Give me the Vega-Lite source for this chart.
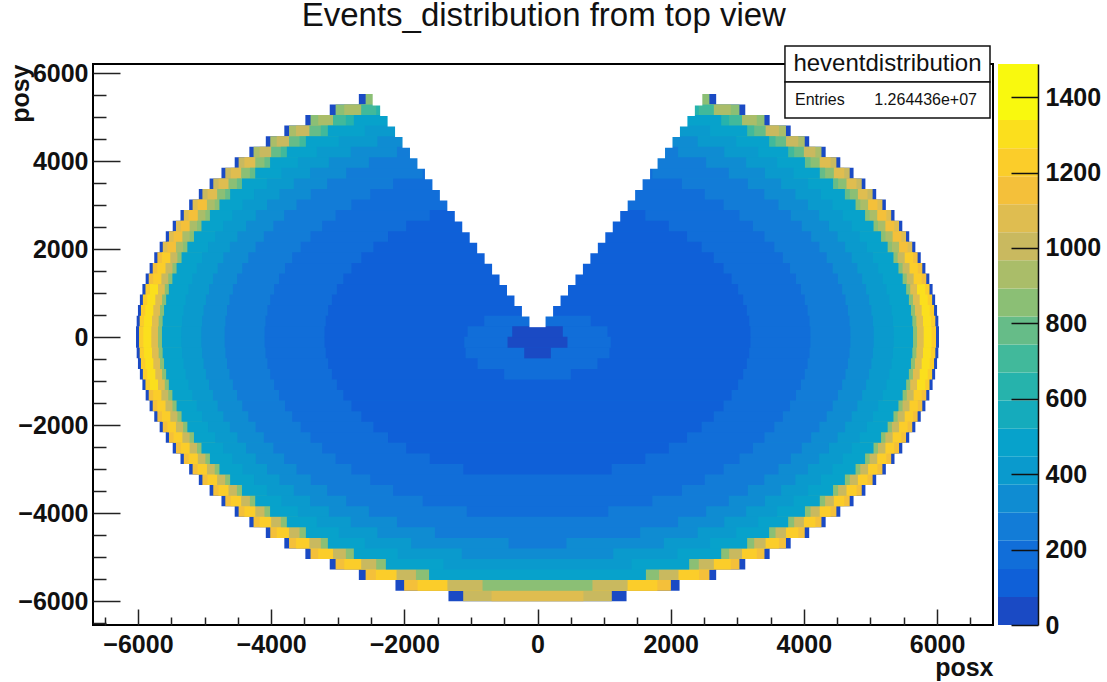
{"$schema":"https://vega.github.io/schema/vega-lite/v6.json","background":"white","padding":{"left":7,"top":0,"right":0,"bottom":0},"title":{"text":"Events_distribution from top view","font":"Liberation Sans","fontSize":33,"fontWeight":"normal","color":"#111","anchor":"middle","frame":"bounds","offset":11,"dx":-10},"config":{"font":"Liberation Sans"},"spacing":4,"hconcat":[{"width":900,"height":561,"view":{"stroke":"black","strokeWidth":2},"resolve":{"axis":{"x":"independent","y":"independent"}},"layer":[{"mark":{"type":"rect","height":11},"data":{"values":[
{"x":-1337,"x2":1337,"y":-5880,"z":110},{"x":-2133,"x2":2133,"y":-5640,"z":110},{"x":-2683,"x2":2683,"y":-5400,"z":110},{"x":-3120,"x2":3120,"y":-5160,"z":110},{"x":-3486,"x2":3486,"y":-4920,"z":110},{"x":-3802,"x2":3802,"y":-4680,"z":110},{"x":-4080,"x2":4080,"y":-4440,"z":110},{"x":-4327,"x2":4327,"y":-4200,"z":110},{"x":-4547,"x2":4547,"y":-3960,"z":110},{"x":-4746,"x2":4746,"y":-3720,"z":110},{"x":-4924,"x2":4924,"y":-3480,"z":110},{"x":-5086,"x2":5086,"y":-3240,"z":110},{"x":-5231,"x2":5231,"y":-3000,"z":110},{"x":-5361,"x2":5361,"y":-2760,"z":110},{"x":-5478,"x2":5478,"y":-2520,"z":110},{"x":-5582,"x2":5582,"y":-2280,"z":110},{"x":-5674,"x2":5674,"y":-2040,"z":110},{"x":-5755,"x2":5755,"y":-1800,"z":110},{"x":-5825,"x2":5825,"y":-1560,"z":110},{"x":-5884,"x2":5884,"y":-1320,"z":110},{"x":-5933,"x2":5933,"y":-1080,"z":110},{"x":-5971,"x2":5971,"y":-840,"z":110},{"x":-6000,"x2":6000,"y":-600,"z":110},{"x":-6019,"x2":6019,"y":-360,"z":110},{"x":-6029,"x2":6029,"y":-120,"z":110},
{"x":-6029,"x2":6029,"y":120,"z":110},{"x":-6019,"x2":6019,"y":360,"z":110},{"x":-6000,"x2":6000,"y":600,"z":110},{"x":-5971,"x2":5971,"y":840,"z":110},{"x":-5933,"x2":5933,"y":1080,"z":110},{"x":-5884,"x2":5884,"y":1320,"z":110},{"x":-5825,"x2":5825,"y":1560,"z":110},{"x":-5755,"x2":5755,"y":1800,"z":110},{"x":-5674,"x2":5674,"y":2040,"z":110},{"x":-5582,"x2":5582,"y":2280,"z":110},{"x":-5478,"x2":5478,"y":2520,"z":110},{"x":-5361,"x2":5361,"y":2760,"z":110},{"x":-5231,"x2":5231,"y":3000,"z":110},{"x":-5086,"x2":5086,"y":3240,"z":110},{"x":-4924,"x2":4924,"y":3480,"z":110},{"x":-4746,"x2":4746,"y":3720,"z":110},{"x":-4547,"x2":4547,"y":3960,"z":110},{"x":-4327,"x2":4327,"y":4200,"z":110},{"x":-4080,"x2":4080,"y":4440,"z":110},{"x":-3802,"x2":3802,"y":4680,"z":110},{"x":-3486,"x2":3486,"y":4920,"z":110},{"x":-3120,"x2":3120,"y":5160,"z":110},{"x":-2683,"x2":2683,"y":5400,"z":110},
{"x":-1116,"x2":1116,"y":-5880,"z":1070},{"x":-2003,"x2":2003,"y":-5640,"z":1220},{"x":-2581,"x2":2581,"y":-5400,"z":1220},{"x":-3032,"x2":3032,"y":-5160,"z":1220},{"x":-3408,"x2":3408,"y":-4920,"z":1220},{"x":-3731,"x2":3731,"y":-4680,"z":1220},{"x":-4013,"x2":4013,"y":-4440,"z":1220},{"x":-4264,"x2":4264,"y":-4200,"z":1220},{"x":-4488,"x2":4488,"y":-3960,"z":1220},{"x":-4688,"x2":4688,"y":-3720,"z":1220},{"x":-4869,"x2":4869,"y":-3480,"z":1220},{"x":-5032,"x2":5032,"y":-3240,"z":1220},{"x":-5179,"x2":5179,"y":-3000,"z":1220},{"x":-5311,"x2":5311,"y":-2760,"z":1220},{"x":-5429,"x2":5429,"y":-2520,"z":1220},{"x":-5534,"x2":5534,"y":-2280,"z":1220},{"x":-5627,"x2":5627,"y":-2040,"z":1220},{"x":-5708,"x2":5708,"y":-1800,"z":1220},{"x":-5778,"x2":5778,"y":-1560,"z":1220},{"x":-5838,"x2":5838,"y":-1320,"z":1220},{"x":-5887,"x2":5887,"y":-1080,"z":1295},{"x":-5926,"x2":5926,"y":-840,"z":1295},{"x":-5955,"x2":5955,"y":-600,"z":1295},{"x":-5974,"x2":5974,"y":-360,"z":1295},{"x":-5984,"x2":5984,"y":-120,"z":1295},
{"x":-5984,"x2":5984,"y":120,"z":1295},{"x":-5974,"x2":5974,"y":360,"z":1295},{"x":-5955,"x2":5955,"y":600,"z":1295},{"x":-5926,"x2":5926,"y":840,"z":1295},{"x":-5887,"x2":5887,"y":1080,"z":1295},{"x":-5838,"x2":5838,"y":1320,"z":1220},{"x":-5778,"x2":5778,"y":1560,"z":1220},{"x":-5708,"x2":5708,"y":1800,"z":1220},{"x":-5627,"x2":5627,"y":2040,"z":1150},{"x":-5534,"x2":5534,"y":2280,"z":1150},{"x":-5429,"x2":5429,"y":2520,"z":1150},{"x":-5311,"x2":5311,"y":2760,"z":1150},{"x":-5179,"x2":5179,"y":3000,"z":1150},{"x":-5032,"x2":5032,"y":3240,"z":1070},{"x":-4869,"x2":4869,"y":3480,"z":1070},{"x":-4688,"x2":4688,"y":3720,"z":1070},{"x":-4488,"x2":4488,"y":3960,"z":1070},{"x":-4264,"x2":4264,"y":4200,"z":1000},{"x":-4013,"x2":4013,"y":4440,"z":1000},{"x":-3731,"x2":3731,"y":4680,"z":1000},{"x":-3408,"x2":3408,"y":4920,"z":925},{"x":-3032,"x2":3032,"y":5160,"z":925},{"x":-2581,"x2":2581,"y":5400,"z":925},
{"x":-690,"x2":690,"y":-5880,"z":1150},{"x":-1800,"x2":1800,"y":-5640,"z":1295},{"x":-2427,"x2":2427,"y":-5400,"z":1295},{"x":-2902,"x2":2902,"y":-5160,"z":1295},{"x":-3293,"x2":3293,"y":-4920,"z":1295},{"x":-3626,"x2":3626,"y":-4680,"z":1295},{"x":-3916,"x2":3916,"y":-4440,"z":1295},{"x":-4173,"x2":4173,"y":-4200,"z":1295},{"x":-4401,"x2":4401,"y":-3960,"z":1295},{"x":-4606,"x2":4606,"y":-3720,"z":1295},{"x":-4790,"x2":4790,"y":-3480,"z":1295},{"x":-4955,"x2":4955,"y":-3240,"z":1295},{"x":-5104,"x2":5104,"y":-3000,"z":1295},{"x":-5238,"x2":5238,"y":-2760,"z":1295},{"x":-5357,"x2":5357,"y":-2520,"z":1295},{"x":-5464,"x2":5464,"y":-2280,"z":1295},{"x":-5558,"x2":5558,"y":-2040,"z":1295},{"x":-5640,"x2":5640,"y":-1800,"z":1295},{"x":-5711,"x2":5711,"y":-1560,"z":1295},{"x":-5771,"x2":5771,"y":-1320,"z":1295},{"x":-5821,"x2":5821,"y":-1080,"z":1370},{"x":-5860,"x2":5860,"y":-840,"z":1370},{"x":-5890,"x2":5890,"y":-600,"z":1370},{"x":-5909,"x2":5909,"y":-360,"z":1370},{"x":-5919,"x2":5919,"y":-120,"z":1370},
{"x":-5919,"x2":5919,"y":120,"z":1370},{"x":-5909,"x2":5909,"y":360,"z":1370},{"x":-5890,"x2":5890,"y":600,"z":1370},{"x":-5860,"x2":5860,"y":840,"z":1370},{"x":-5821,"x2":5821,"y":1080,"z":1370},{"x":-5771,"x2":5771,"y":1320,"z":1295},{"x":-5711,"x2":5711,"y":1560,"z":1295},{"x":-5640,"x2":5640,"y":1800,"z":1295},{"x":-5558,"x2":5558,"y":2040,"z":1220},{"x":-5464,"x2":5464,"y":2280,"z":1220},{"x":-5357,"x2":5357,"y":2520,"z":1220},{"x":-5238,"x2":5238,"y":2760,"z":1220},{"x":-5104,"x2":5104,"y":3000,"z":1220},{"x":-4955,"x2":4955,"y":3240,"z":1150},{"x":-4790,"x2":4790,"y":3480,"z":1150},{"x":-4606,"x2":4606,"y":3720,"z":1150},{"x":-4401,"x2":4401,"y":3960,"z":1150},{"x":-4173,"x2":4173,"y":4200,"z":1070},{"x":-3916,"x2":3916,"y":4440,"z":1070},{"x":-3626,"x2":3626,"y":4680,"z":1070},{"x":-3293,"x2":3293,"y":4920,"z":1000},{"x":-2902,"x2":2902,"y":5160,"z":1000},{"x":-2427,"x2":2427,"y":5400,"z":1000},
{"x":-1353,"x2":1353,"y":-5640,"z":1070},{"x":-2117,"x2":2117,"y":-5400,"z":1070},{"x":-2648,"x2":2648,"y":-5160,"z":1070},{"x":-3071,"x2":3071,"y":-4920,"z":1070},{"x":-3426,"x2":3426,"y":-4680,"z":1070},{"x":-3732,"x2":3732,"y":-4440,"z":1070},{"x":-4000,"x2":4000,"y":-4200,"z":1070},{"x":-4238,"x2":4238,"y":-3960,"z":1070},{"x":-4450,"x2":4450,"y":-3720,"z":1070},{"x":-4640,"x2":4640,"y":-3480,"z":1070},{"x":-4811,"x2":4811,"y":-3240,"z":1070},{"x":-4964,"x2":4964,"y":-3000,"z":1070},{"x":-5101,"x2":5101,"y":-2760,"z":1070},{"x":-5224,"x2":5224,"y":-2520,"z":1070},{"x":-5333,"x2":5333,"y":-2280,"z":1070},{"x":-5429,"x2":5429,"y":-2040,"z":1070},{"x":-5514,"x2":5514,"y":-1800,"z":1070},{"x":-5586,"x2":5586,"y":-1560,"z":1070},{"x":-5648,"x2":5648,"y":-1320,"z":1070},{"x":-5699,"x2":5699,"y":-1080,"z":1150},{"x":-5739,"x2":5739,"y":-840,"z":1150},{"x":-5769,"x2":5769,"y":-600,"z":1150},{"x":-5789,"x2":5789,"y":-360,"z":1150},{"x":-5799,"x2":5799,"y":-120,"z":1150},
{"x":-5799,"x2":5799,"y":120,"z":1150},{"x":-5789,"x2":5789,"y":360,"z":1150},{"x":-5769,"x2":5769,"y":600,"z":1150},{"x":-5739,"x2":5739,"y":840,"z":1150},{"x":-5699,"x2":5699,"y":1080,"z":1150},{"x":-5648,"x2":5648,"y":1320,"z":1070},{"x":-5586,"x2":5586,"y":1560,"z":1070},{"x":-5514,"x2":5514,"y":1800,"z":1070},{"x":-5429,"x2":5429,"y":2040,"z":1000},{"x":-5333,"x2":5333,"y":2280,"z":1000},{"x":-5224,"x2":5224,"y":2520,"z":1000},{"x":-5101,"x2":5101,"y":2760,"z":1000},{"x":-4964,"x2":4964,"y":3000,"z":1000},{"x":-4811,"x2":4811,"y":3240,"z":925},{"x":-4640,"x2":4640,"y":3480,"z":925},{"x":-4450,"x2":4450,"y":3720,"z":925},{"x":-4238,"x2":4238,"y":3960,"z":925},{"x":-4000,"x2":4000,"y":4200,"z":850},{"x":-3732,"x2":3732,"y":4440,"z":850},{"x":-3426,"x2":3426,"y":4680,"z":850},{"x":-3071,"x2":3071,"y":4920,"z":780},{"x":-2648,"x2":2648,"y":5160,"z":780},{"x":-2117,"x2":2117,"y":5400,"z":780},
{"x":-825,"x2":825,"y":-5640,"z":925},{"x":-1825,"x2":1825,"y":-5400,"z":925},{"x":-2422,"x2":2422,"y":-5160,"z":925},{"x":-2878,"x2":2878,"y":-4920,"z":925},{"x":-3254,"x2":3254,"y":-4680,"z":925},{"x":-3574,"x2":3574,"y":-4440,"z":925},{"x":-3854,"x2":3854,"y":-4200,"z":925},{"x":-4100,"x2":4100,"y":-3960,"z":925},{"x":-4319,"x2":4319,"y":-3720,"z":925},{"x":-4514,"x2":4514,"y":-3480,"z":925},{"x":-4690,"x2":4690,"y":-3240,"z":925},{"x":-4847,"x2":4847,"y":-3000,"z":925},{"x":-4987,"x2":4987,"y":-2760,"z":925},{"x":-5113,"x2":5113,"y":-2520,"z":925},{"x":-5224,"x2":5224,"y":-2280,"z":925},{"x":-5322,"x2":5322,"y":-2040,"z":925},{"x":-5408,"x2":5408,"y":-1800,"z":925},{"x":-5482,"x2":5482,"y":-1560,"z":925},{"x":-5545,"x2":5545,"y":-1320,"z":925},{"x":-5597,"x2":5597,"y":-1080,"z":925},{"x":-5638,"x2":5638,"y":-840,"z":925},{"x":-5668,"x2":5668,"y":-600,"z":925},{"x":-5689,"x2":5689,"y":-360,"z":925},{"x":-5699,"x2":5699,"y":-120,"z":925},
{"x":-5699,"x2":5699,"y":120,"z":925},{"x":-5689,"x2":5689,"y":360,"z":925},{"x":-5668,"x2":5668,"y":600,"z":925},{"x":-5638,"x2":5638,"y":840,"z":925},{"x":-5597,"x2":5597,"y":1080,"z":925},{"x":-5545,"x2":5545,"y":1320,"z":925},{"x":-5482,"x2":5482,"y":1560,"z":925},{"x":-5408,"x2":5408,"y":1800,"z":925},{"x":-5322,"x2":5322,"y":2040,"z":925},{"x":-5224,"x2":5224,"y":2280,"z":925},{"x":-5113,"x2":5113,"y":2520,"z":925},{"x":-4987,"x2":4987,"y":2760,"z":925},{"x":-4847,"x2":4847,"y":3000,"z":925},{"x":-4690,"x2":4690,"y":3240,"z":820},{"x":-4514,"x2":4514,"y":3480,"z":820},{"x":-4319,"x2":4319,"y":3720,"z":820},{"x":-4100,"x2":4100,"y":3960,"z":820},{"x":-3854,"x2":3854,"y":4200,"z":780},{"x":-3574,"x2":3574,"y":4440,"z":780},{"x":-3254,"x2":3254,"y":4680,"z":780},{"x":-2878,"x2":2878,"y":4920,"z":700},{"x":-2422,"x2":2422,"y":5160,"z":700},{"x":-1825,"x2":1825,"y":5400,"z":700},
{"x":-1628,"x2":1628,"y":-5400,"z":590},{"x":-2277,"x2":2277,"y":-5160,"z":590},{"x":-2758,"x2":2758,"y":-4920,"z":590},{"x":-3148,"x2":3148,"y":-4680,"z":590},{"x":-3478,"x2":3478,"y":-4440,"z":590},{"x":-3764,"x2":3764,"y":-4200,"z":590},{"x":-4016,"x2":4016,"y":-3960,"z":590},{"x":-4239,"x2":4239,"y":-3720,"z":590},{"x":-4438,"x2":4438,"y":-3480,"z":590},{"x":-4616,"x2":4616,"y":-3240,"z":590},{"x":-4776,"x2":4776,"y":-3000,"z":590},{"x":-4919,"x2":4919,"y":-2760,"z":590},{"x":-5046,"x2":5046,"y":-2520,"z":590},{"x":-5159,"x2":5159,"y":-2280,"z":590},{"x":-5258,"x2":5258,"y":-2040,"z":590},{"x":-5345,"x2":5345,"y":-1800,"z":590},{"x":-5420,"x2":5420,"y":-1560,"z":590},{"x":-5483,"x2":5483,"y":-1320,"z":590},{"x":-5536,"x2":5536,"y":-1080,"z":590},{"x":-5577,"x2":5577,"y":-840,"z":590},{"x":-5608,"x2":5608,"y":-600,"z":590},{"x":-5629,"x2":5629,"y":-360,"z":590},{"x":-5639,"x2":5639,"y":-120,"z":590},
{"x":-5639,"x2":5639,"y":120,"z":590},{"x":-5629,"x2":5629,"y":360,"z":590},{"x":-5608,"x2":5608,"y":600,"z":590},{"x":-5577,"x2":5577,"y":840,"z":590},{"x":-5536,"x2":5536,"y":1080,"z":590},{"x":-5483,"x2":5483,"y":1320,"z":590},{"x":-5420,"x2":5420,"y":1560,"z":590},{"x":-5345,"x2":5345,"y":1800,"z":590},{"x":-5258,"x2":5258,"y":2040,"z":590},{"x":-5159,"x2":5159,"y":2280,"z":590},{"x":-5046,"x2":5046,"y":2520,"z":590},{"x":-4919,"x2":4919,"y":2760,"z":590},{"x":-4776,"x2":4776,"y":3000,"z":590},{"x":-4616,"x2":4616,"y":3240,"z":590},{"x":-4438,"x2":4438,"y":3480,"z":590},{"x":-4239,"x2":4239,"y":3720,"z":590},{"x":-4016,"x2":4016,"y":3960,"z":590},{"x":-3764,"x2":3764,"y":4200,"z":590},{"x":-3478,"x2":3478,"y":4440,"z":590},{"x":-3148,"x2":3148,"y":4680,"z":590},{"x":-2758,"x2":2758,"y":4920,"z":590},{"x":-2277,"x2":2277,"y":5160,"z":590},{"x":-1628,"x2":1628,"y":5400,"z":590},
{"x":-1412,"x2":1412,"y":-5160,"z":480},{"x":-2101,"x2":2101,"y":-4920,"z":480},{"x":-2592,"x2":2592,"y":-4680,"z":480},{"x":-2984,"x2":2984,"y":-4440,"z":480},{"x":-3314,"x2":3314,"y":-4200,"z":480},{"x":-3597,"x2":3597,"y":-3960,"z":480},{"x":-3845,"x2":3845,"y":-3720,"z":480},{"x":-4063,"x2":4063,"y":-3480,"z":480},{"x":-4257,"x2":4257,"y":-3240,"z":480},{"x":-4429,"x2":4429,"y":-3000,"z":480},{"x":-4583,"x2":4583,"y":-2760,"z":480},{"x":-4719,"x2":4719,"y":-2520,"z":480},{"x":-4840,"x2":4840,"y":-2280,"z":480},{"x":-4946,"x2":4946,"y":-2040,"z":480},{"x":-5038,"x2":5038,"y":-1800,"z":480},{"x":-5117,"x2":5117,"y":-1560,"z":480},{"x":-5184,"x2":5184,"y":-1320,"z":480},{"x":-5240,"x2":5240,"y":-1080,"z":480},{"x":-5283,"x2":5283,"y":-840,"z":480},{"x":-5316,"x2":5316,"y":-600,"z":480},{"x":-5338,"x2":5338,"y":-360,"z":480},{"x":-5349,"x2":5349,"y":-120,"z":480},
{"x":-5349,"x2":5349,"y":120,"z":480},{"x":-5338,"x2":5338,"y":360,"z":480},{"x":-5316,"x2":5316,"y":600,"z":480},{"x":-5283,"x2":5283,"y":840,"z":480},{"x":-5240,"x2":5240,"y":1080,"z":480},{"x":-5184,"x2":5184,"y":1320,"z":480},{"x":-5117,"x2":5117,"y":1560,"z":480},{"x":-5038,"x2":5038,"y":1800,"z":480},{"x":-4946,"x2":4946,"y":2040,"z":480},{"x":-4840,"x2":4840,"y":2280,"z":480},{"x":-4719,"x2":4719,"y":2520,"z":480},{"x":-4583,"x2":4583,"y":2760,"z":480},{"x":-4429,"x2":4429,"y":3000,"z":480},{"x":-4257,"x2":4257,"y":3240,"z":480},{"x":-4063,"x2":4063,"y":3480,"z":480},{"x":-3845,"x2":3845,"y":3720,"z":480},{"x":-3597,"x2":3597,"y":3960,"z":480},{"x":-3314,"x2":3314,"y":4200,"z":480},{"x":-2984,"x2":2984,"y":4440,"z":480},{"x":-2592,"x2":2592,"y":4680,"z":480},{"x":-2101,"x2":2101,"y":4920,"z":480},{"x":-1412,"x2":1412,"y":5160,"z":480},
{"x":-1138,"x2":1138,"y":-4920,"z":410},{"x":-1897,"x2":1897,"y":-4680,"z":410},{"x":-2405,"x2":2405,"y":-4440,"z":410},{"x":-2804,"x2":2804,"y":-4200,"z":410},{"x":-3133,"x2":3133,"y":-3960,"z":410},{"x":-3415,"x2":3415,"y":-3720,"z":410},{"x":-3659,"x2":3659,"y":-3480,"z":410},{"x":-3873,"x2":3873,"y":-3240,"z":410},{"x":-4062,"x2":4062,"y":-3000,"z":410},{"x":-4229,"x2":4229,"y":-2760,"z":410},{"x":-4376,"x2":4376,"y":-2520,"z":410},{"x":-4506,"x2":4506,"y":-2280,"z":410},{"x":-4619,"x2":4619,"y":-2040,"z":410},{"x":-4718,"x2":4718,"y":-1800,"z":410},{"x":-4803,"x2":4803,"y":-1560,"z":410},{"x":-4874,"x2":4874,"y":-1320,"z":410},{"x":-4933,"x2":4933,"y":-1080,"z":410},{"x":-4979,"x2":4979,"y":-840,"z":410},{"x":-5014,"x2":5014,"y":-600,"z":410},{"x":-5037,"x2":5037,"y":-360,"z":410},{"x":-5049,"x2":5049,"y":-120,"z":410},
{"x":-5049,"x2":5049,"y":120,"z":410},{"x":-5037,"x2":5037,"y":360,"z":410},{"x":-5014,"x2":5014,"y":600,"z":410},{"x":-4979,"x2":4979,"y":840,"z":410},{"x":-4933,"x2":4933,"y":1080,"z":410},{"x":-4874,"x2":4874,"y":1320,"z":410},{"x":-4803,"x2":4803,"y":1560,"z":410},{"x":-4718,"x2":4718,"y":1800,"z":410},{"x":-4619,"x2":4619,"y":2040,"z":410},{"x":-4506,"x2":4506,"y":2280,"z":410},{"x":-4376,"x2":4376,"y":2520,"z":410},{"x":-4229,"x2":4229,"y":2760,"z":410},{"x":-4062,"x2":4062,"y":3000,"z":410},{"x":-3873,"x2":3873,"y":3240,"z":410},{"x":-3659,"x2":3659,"y":3480,"z":410},{"x":-3415,"x2":3415,"y":3720,"z":410},{"x":-3133,"x2":3133,"y":3960,"z":410},{"x":-2804,"x2":2804,"y":4200,"z":410},{"x":-2405,"x2":2405,"y":4440,"z":410},{"x":-1897,"x2":1897,"y":4680,"z":410},{"x":-1138,"x2":1138,"y":4920,"z":410},
{"x":-434,"x2":434,"y":-4680,"z":330},{"x":-1541,"x2":1541,"y":-4440,"z":330},{"x":-2110,"x2":2110,"y":-4200,"z":330},{"x":-2531,"x2":2531,"y":-3960,"z":330},{"x":-2873,"x2":2873,"y":-3720,"z":330},{"x":-3159,"x2":3159,"y":-3480,"z":330},{"x":-3405,"x2":3405,"y":-3240,"z":330},{"x":-3618,"x2":3618,"y":-3000,"z":330},{"x":-3804,"x2":3804,"y":-2760,"z":330},{"x":-3967,"x2":3967,"y":-2520,"z":330},{"x":-4110,"x2":4110,"y":-2280,"z":330},{"x":-4234,"x2":4234,"y":-2040,"z":330},{"x":-4342,"x2":4342,"y":-1800,"z":330},{"x":-4433,"x2":4433,"y":-1560,"z":330},{"x":-4511,"x2":4511,"y":-1320,"z":330},{"x":-4574,"x2":4574,"y":-1080,"z":330},{"x":-4624,"x2":4624,"y":-840,"z":330},{"x":-4662,"x2":4662,"y":-600,"z":330},{"x":-4686,"x2":4686,"y":-360,"z":330},{"x":-4698,"x2":4698,"y":-120,"z":330},
{"x":-4698,"x2":4698,"y":120,"z":330},{"x":-4686,"x2":4686,"y":360,"z":330},{"x":-4662,"x2":4662,"y":600,"z":330},{"x":-4624,"x2":4624,"y":840,"z":330},{"x":-4574,"x2":4574,"y":1080,"z":330},{"x":-4511,"x2":4511,"y":1320,"z":330},{"x":-4433,"x2":4433,"y":1560,"z":330},{"x":-4342,"x2":4342,"y":1800,"z":330},{"x":-4234,"x2":4234,"y":2040,"z":330},{"x":-4110,"x2":4110,"y":2280,"z":330},{"x":-3967,"x2":3967,"y":2520,"z":330},{"x":-3804,"x2":3804,"y":2760,"z":330},{"x":-3618,"x2":3618,"y":3000,"z":330},{"x":-3405,"x2":3405,"y":3240,"z":330},{"x":-3159,"x2":3159,"y":3480,"z":330},{"x":-2873,"x2":2873,"y":3720,"z":330},{"x":-2531,"x2":2531,"y":3960,"z":330},{"x":-2110,"x2":2110,"y":4200,"z":330},{"x":-1541,"x2":1541,"y":4440,"z":330},{"x":-434,"x2":434,"y":4680,"z":330},
{"x":-1062,"x2":1062,"y":-3960,"z":260},{"x":-1724,"x2":1724,"y":-3720,"z":260},{"x":-2168,"x2":2168,"y":-3480,"z":260},{"x":-2512,"x2":2512,"y":-3240,"z":260},{"x":-2795,"x2":2795,"y":-3000,"z":260},{"x":-3032,"x2":3032,"y":-2760,"z":260},{"x":-3234,"x2":3234,"y":-2520,"z":260},{"x":-3408,"x2":3408,"y":-2280,"z":260},{"x":-3556,"x2":3556,"y":-2040,"z":260},{"x":-3684,"x2":3684,"y":-1800,"z":260},{"x":-3792,"x2":3792,"y":-1560,"z":260},{"x":-3882,"x2":3882,"y":-1320,"z":260},{"x":-3955,"x2":3955,"y":-1080,"z":260},{"x":-4013,"x2":4013,"y":-840,"z":260},{"x":-4056,"x2":4056,"y":-600,"z":260},{"x":-4084,"x2":4084,"y":-360,"z":260},{"x":-4098,"x2":4098,"y":-120,"z":260},
{"x":-4098,"x2":4098,"y":120,"z":260},{"x":-4084,"x2":4084,"y":360,"z":260},{"x":-4056,"x2":4056,"y":600,"z":260},{"x":-4013,"x2":4013,"y":840,"z":260},{"x":-3955,"x2":3955,"y":1080,"z":260},{"x":-3882,"x2":3882,"y":1320,"z":260},{"x":-3792,"x2":3792,"y":1560,"z":260},{"x":-3684,"x2":3684,"y":1800,"z":260},{"x":-3556,"x2":3556,"y":2040,"z":260},{"x":-3408,"x2":3408,"y":2280,"z":260},{"x":-3234,"x2":3234,"y":2520,"z":260},{"x":-3032,"x2":3032,"y":2760,"z":260},{"x":-2795,"x2":2795,"y":3000,"z":260},{"x":-2512,"x2":2512,"y":3240,"z":260},{"x":-2168,"x2":2168,"y":3480,"z":260},{"x":-1724,"x2":1724,"y":3720,"z":260},{"x":-1062,"x2":1062,"y":3960,"z":260},
{"x":-1114,"x2":1114,"y":-3000,"z":185},{"x":-1619,"x2":1619,"y":-2760,"z":185},{"x":-1972,"x2":1972,"y":-2520,"z":185},{"x":-2245,"x2":2245,"y":-2280,"z":185},{"x":-2465,"x2":2465,"y":-2040,"z":185},{"x":-2646,"x2":2646,"y":-1800,"z":185},{"x":-2794,"x2":2794,"y":-1560,"z":185},{"x":-2915,"x2":2915,"y":-1320,"z":185},{"x":-3012,"x2":3012,"y":-1080,"z":185},{"x":-3088,"x2":3088,"y":-840,"z":185},{"x":-3143,"x2":3143,"y":-600,"z":185},{"x":-3180,"x2":3180,"y":-360,"z":185},{"x":-3198,"x2":3198,"y":-120,"z":185},
{"x":-3198,"x2":3198,"y":120,"z":185},{"x":-3180,"x2":3180,"y":360,"z":185},{"x":-3143,"x2":3143,"y":600,"z":185},{"x":-3088,"x2":3088,"y":840,"z":185},{"x":-3012,"x2":3012,"y":1080,"z":185},{"x":-2915,"x2":2915,"y":1320,"z":185},{"x":-2794,"x2":2794,"y":1560,"z":185},{"x":-2646,"x2":2646,"y":1800,"z":185},{"x":-2465,"x2":2465,"y":2040,"z":185},{"x":-2245,"x2":2245,"y":2280,"z":185},{"x":-1972,"x2":1972,"y":2520,"z":185},{"x":-1619,"x2":1619,"y":2760,"z":185},{"x":-1114,"x2":1114,"y":3000,"z":185},
{"x":-500,"x2":500,"y":-840,"z":260},{"x":-900,"x2":900,"y":-600,"z":260},{"x":-1080,"x2":1080,"y":-360,"z":260},{"x":-1100,"x2":1100,"y":-120,"z":260},{"x":-1050,"x2":1050,"y":120,"z":260},{"x":-800,"x2":800,"y":360,"z":260},
{"x":-200,"x2":200,"y":-360,"z":110},{"x":-450,"x2":450,"y":-120,"z":110},{"x":-380,"x2":380,"y":120,"z":110}
]},"encoding":{"x":{"field":"x","type":"quantitative","scale":{"domain":[-6675,6840],"nice":false,"zero":false},"title":"posx","axis":{"orient":"bottom","values":[-6000,-4000,-2000,0,2000,4000,6000],"labelOverlap":false,"grid":false,"format":"d","domain":false,"tickColor":"#222","tickWidth":1.5,"tickSize":-16,"labelFont":"Liberation Sans","labelFontWeight":"bold","labelFontSize":25,"labelColor":"#111","labelPadding":23,"titleFont":"Liberation Sans","titleFontWeight":"bold","titleFontSize":25,"titleColor":"#111","titleAnchor":"end","titleAlign":"right","titleBaseline":"alphabetic","titleY":50,"zindex":1}},"x2":{"field":"x2"},"y":{"field":"y","type":"quantitative","scale":{"domain":[-6545,6205],"nice":false,"zero":false},"title":"posy","axis":{"orient":"left","values":[-6000,-4000,-2000,0,2000,4000,6000],"labelOverlap":false,"grid":false,"format":"d","domain":false,"tickColor":"#222","tickWidth":1.5,"tickSize":-27,"labelFont":"Liberation Sans","labelFontWeight":"bold","labelFontSize":25,"labelColor":"#111","labelPadding":32,"titleFont":"Liberation Sans","titleFontWeight":"bold","titleFontSize":25,"titleColor":"#111","titleAnchor":"end","titleAlign":"right","titleBaseline":"alphabetic","titleX":-65,"titleY":0,"zindex":1}},"color":{"field":"z","type":"quantitative","legend":null,"scale":{"type":"quantize","domain":[0,1488],"range":["#2a39a5","#1a4ac4","#0f60d8","#116ed9","#127cd7","#0f8cd2","#0a9acd","#07a2cb","#15abbc","#26b3ac","#41b99b","#66bc88","#8bbf75","#aabd69","#c9b95f","#dfbd50","#f4c03a","#fbcd2a","#fbdf1d","#f9f90e"]}}}},
{"mark":{"type":"rect","height":12,"fill":"white"},"data":{"values":[{"x":-121,"x2":121,"y":360},{"x":-234,"x2":234,"y":600},{"x":-346,"x2":346,"y":840},{"x":-458,"x2":458,"y":1080},{"x":-570,"x2":570,"y":1320},{"x":-682,"x2":682,"y":1560},{"x":-794,"x2":794,"y":1800},{"x":-906,"x2":906,"y":2040},{"x":-1018,"x2":1018,"y":2280},{"x":-1130,"x2":1130,"y":2520},{"x":-1242,"x2":1242,"y":2760},{"x":-1354,"x2":1354,"y":3000},{"x":-1466,"x2":1466,"y":3240},{"x":-1578,"x2":1578,"y":3480},{"x":-1690,"x2":1690,"y":3720},{"x":-1803,"x2":1803,"y":3960},{"x":-1915,"x2":1915,"y":4200},{"x":-2027,"x2":2027,"y":4440},{"x":-2139,"x2":2139,"y":4680},{"x":-2251,"x2":2251,"y":4920},{"x":-2363,"x2":2363,"y":5160},{"x":-2475,"x2":2475,"y":5400}]},"encoding":{"x":{"field":"x","type":"quantitative","axis":{"orient":"bottom","values":[-6500,-5500,-5000,-4500,-3500,-3000,-2500,-1500,-1000,-500,500,1000,1500,2500,3000,3500,4500,5000,5500,6500],"labels":false,"domain":false,"grid":false,"title":null,"tickColor":"#222","tickWidth":1.5,"tickSize":-8,"zindex":1}},"x2":{"field":"x2"},"y":{"field":"y","type":"quantitative","axis":{"orient":"left","values":[-6500,-5500,-5000,-4500,-3500,-3000,-2500,-1500,-1000,-500,500,1000,1500,2500,3000,3500,4500,5000,5500],"labels":false,"domain":false,"grid":false,"title":null,"tickColor":"#222","tickWidth":1.5,"tickSize":-13,"zindex":1}}}},
{"mark":{"type":"rect","fill":"white","stroke":"#111","strokeWidth":1.5},"data":{"values":[{"x":3716,"x2":6795,"y":5795,"y2":6614},{"x":3716,"x2":6795,"y":4977,"y2":5795}]},"encoding":{"x":{"field":"x","type":"quantitative","axis":null},"x2":{"field":"x2"},"y":{"field":"y","type":"quantitative","axis":null},"y2":{"field":"y2"}}},
{"mark":{"type":"text","font":"Liberation Sans","fontSize":24,"align":"center","baseline":"middle","color":"#111"},"data":{"values":[{"x":5255,"y":6205,"t":"heventdistribution"}]},"encoding":{"x":{"field":"x","type":"quantitative","axis":null},"y":{"field":"y","type":"quantitative","axis":null},"text":{"field":"t"}}},
{"mark":{"type":"text","font":"Liberation Sans","fontSize":16,"align":"left","baseline":"middle","color":"#111"},"data":{"values":[{"x":3866,"y":5386,"t":"Entries"}]},"encoding":{"x":{"field":"x","type":"quantitative","axis":null},"y":{"field":"y","type":"quantitative","axis":null},"text":{"field":"t"}}},
{"mark":{"type":"text","font":"Liberation Sans","fontSize":16,"align":"right","baseline":"middle","color":"#111"},"data":{"values":[{"x":6600,"y":5386,"t":"1.264436e+07"}]},"encoding":{"x":{"field":"x","type":"quantitative","axis":null},"y":{"field":"y","type":"quantitative","axis":null},"text":{"field":"t"}}}
]},
{"width":40,"height":561,"view":{"stroke":null},"mark":"rect","data":{"values":[{"a":0,"b":74.4},{"a":74.4,"b":148.8},{"a":148.8,"b":223.2},{"a":223.2,"b":297.6},{"a":297.6,"b":372},{"a":372,"b":446.4},{"a":446.4,"b":520.8},{"a":520.8,"b":595.2},{"a":595.2,"b":669.6},{"a":669.6,"b":744},{"a":744,"b":818.4},{"a":818.4,"b":892.8},{"a":892.8,"b":967.2},{"a":967.2,"b":1041.6},{"a":1041.6,"b":1116},{"a":1116,"b":1190.4},{"a":1190.4,"b":1264.8},{"a":1264.8,"b":1339.2},{"a":1339.2,"b":1413.6},{"a":1413.6,"b":1488}]},"encoding":{"y":{"field":"a","type":"quantitative","title":null,"scale":{"domain":[0,1488],"nice":false},"axis":{"orient":"right","values":[0,200,400,600,800,1000,1200,1400],"grid":false,"domainColor":"#111","domainWidth":1.5,"tickColor":"#111","tickWidth":1.5,"tickSize":-27,"labelFont":"Liberation Sans","labelFontWeight":"bold","labelFontSize":25,"labelColor":"#111","labelPadding":34,"format":"d","labelOverlap":false,"zindex":1}},"y2":{"field":"b"},"color":{"field":"b","type":"quantitative","legend":null,"scale":{"type":"threshold","domain":[74.5,148.9,223.3,297.7,372.1,446.5,520.9,595.3,669.7,744.1,818.5,892.9,967.3,1041.7,1116.1,1190.5,1264.9,1339.3,1413.7],"range":["#2a39a5","#1a4ac4","#0f60d8","#116ed9","#127cd7","#0f8cd2","#0a9acd","#07a2cb","#15abbc","#26b3ac","#41b99b","#66bc88","#8bbf75","#aabd69","#c9b95f","#dfbd50","#f4c03a","#fbcd2a","#fbdf1d","#f9f90e"]}}}}
]}
